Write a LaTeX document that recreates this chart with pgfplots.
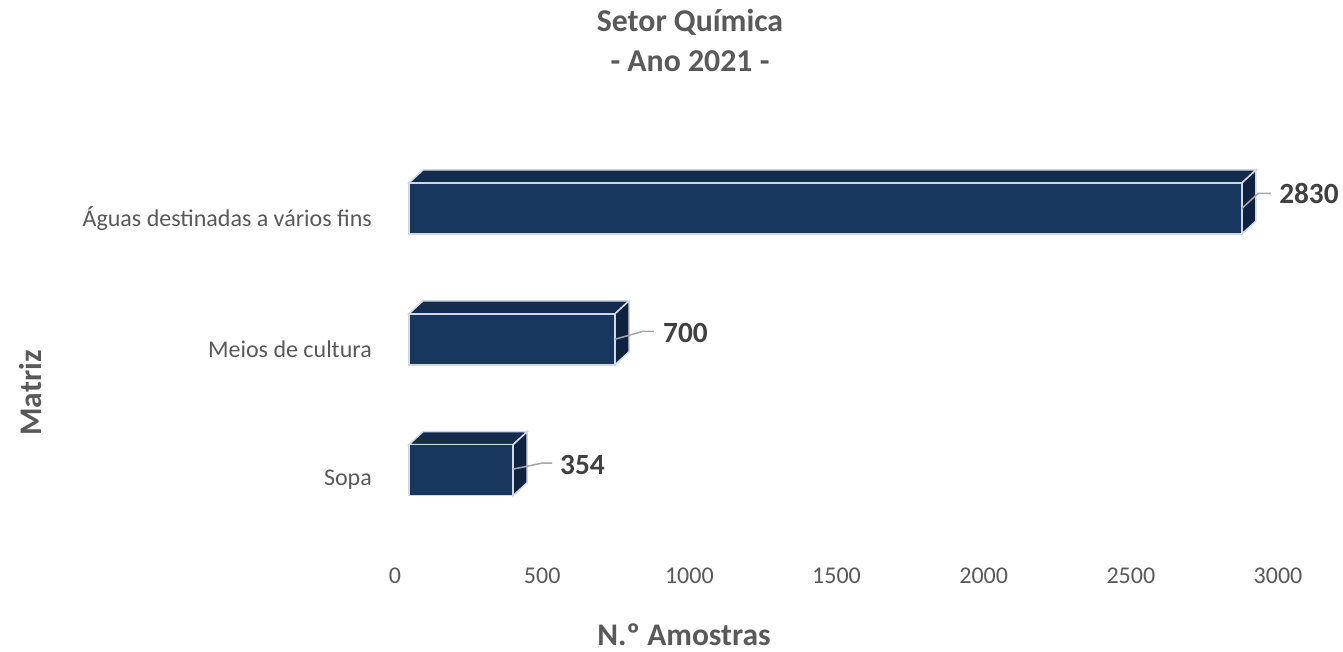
\documentclass[border=0pt]{standalone}
\usepackage{pgfplots}
\pgfplotsset{compat=1.18}
\usepackage{fontspec}
\setmainfont{Carlito}
\definecolor{front}{HTML}{17375E}
\definecolor{topc}{HTML}{132B4C}
\definecolor{side}{HTML}{0F2340}
\definecolor{edge}{HTML}{D0D8E4}
\definecolor{txt}{HTML}{595959}
\definecolor{lbl}{HTML}{404040}
\definecolor{lead}{HTML}{A6A6A6}
\begin{document}
\begin{tikzpicture}
\begin{axis}[
  at={(409pt,-535.5pt)}, anchor=south west,
  scale only axis, width=883pt, height=392.5pt,
  xmin=0, xmax=3000, ymin=-0.5, ymax=2.5,
  axis line style={draw=none}, major tick style={draw=none}, major tick length=0pt,
  xtick={0,500,...,3000},
  ytick={0,1,2},
  yticklabels={Sopa, Meios de cultura, Águas destinadas a vários fins},
  /pgf/number format/assume math mode=true,
  /pgf/number format/set thousands separator={},
  xticklabel style={anchor=center, inner sep=0pt, xshift=-14pt, yshift=-40.5pt, font=\fontsize{24}{28}\selectfont, text=txt},
  yticklabel style={anchor=east, inner sep=0pt, xshift=-37pt, yshift=-10pt, font=\fontsize{24}{28}\selectfont, text=txt},
  clip=false,
]
% top faces
\addplot[fill=topc, draw=edge, line width=1.5pt] coordinates {(0,2.1947) (2830,2.1947) (2877.6,2.2939) (47.6,2.2939)} -- cycle;
\addplot[fill=topc, draw=edge, line width=1.5pt] coordinates {(0,1.1947) (700,1.1947) (747.6,1.2939) (47.6,1.2939)} -- cycle;
\addplot[fill=topc, draw=edge, line width=1.5pt] coordinates {(0,0.1947) (354,0.1947) (401.6,0.2939) (47.6,0.2939)} -- cycle;
% side faces
\addplot[fill=side, draw=edge, line width=1.5pt] coordinates {(2830,1.8053) (2830,2.1947) (2877.6,2.2939) (2877.6,1.9045)} -- cycle;
\addplot[fill=side, draw=edge, line width=1.5pt] coordinates {(700,0.8053) (700,1.1947) (747.6,1.2939) (747.6,0.9045)} -- cycle;
\addplot[fill=side, draw=edge, line width=1.5pt] coordinates {(354,-0.1947) (354,0.1947) (401.6,0.2939) (401.6,-0.0955)} -- cycle;
% front faces
\addplot[xbar, bar width=51pt, bar shift=0pt, fill=front, draw=edge, line width=1.5pt] coordinates {(2830,2) (700,1) (354,0)};
% leader lines
\addplot[lead, line width=1.5pt] coordinates {(2830,2.0) (2884.5,2.115) (2928.7,2.115)};
\addplot[lead, line width=1.5pt] coordinates {(700,1.0) (795,1.061) (832,1.061)};
\addplot[lead, line width=1.5pt] coordinates {(354,0.0076) (452,0.053) (486,0.053)};
% data labels
\addplot[draw=none, mark=none, nodes near coords, point meta=explicit symbolic,
  nodes near coords style={anchor=west, inner sep=0pt, font=\fontsize{29.3}{34}\selectfont\bfseries, text=lbl}]
  coordinates {(2956,2.115)[2830] (863,1.046)[700] (513,0.038)[354]};
\end{axis}
\node[anchor=base, inner sep=0pt, font=\fontsize{31.8}{36}\selectfont\bfseries, text=txt] at (690pt,-32pt) {Setor Química};
\node[anchor=base, inner sep=0pt, font=\fontsize{31.8}{36}\selectfont\bfseries, text=txt] at (690pt,-71.5pt) {- Ano 2021 -};
\node[anchor=base, inner sep=0pt, font=\fontsize{31.5}{36}\selectfont\bfseries, text=txt] at (684pt,-645pt) {N.º Amostras};
\node[anchor=center, inner sep=0pt, rotate=90, font=\fontsize{31.5}{36}\selectfont\bfseries, text=txt] at (30.5pt,-393pt) {Matriz};
\pgfresetboundingbox
\path (0,0) rectangle (1343pt,-652pt);
\end{tikzpicture}
\end{document}
